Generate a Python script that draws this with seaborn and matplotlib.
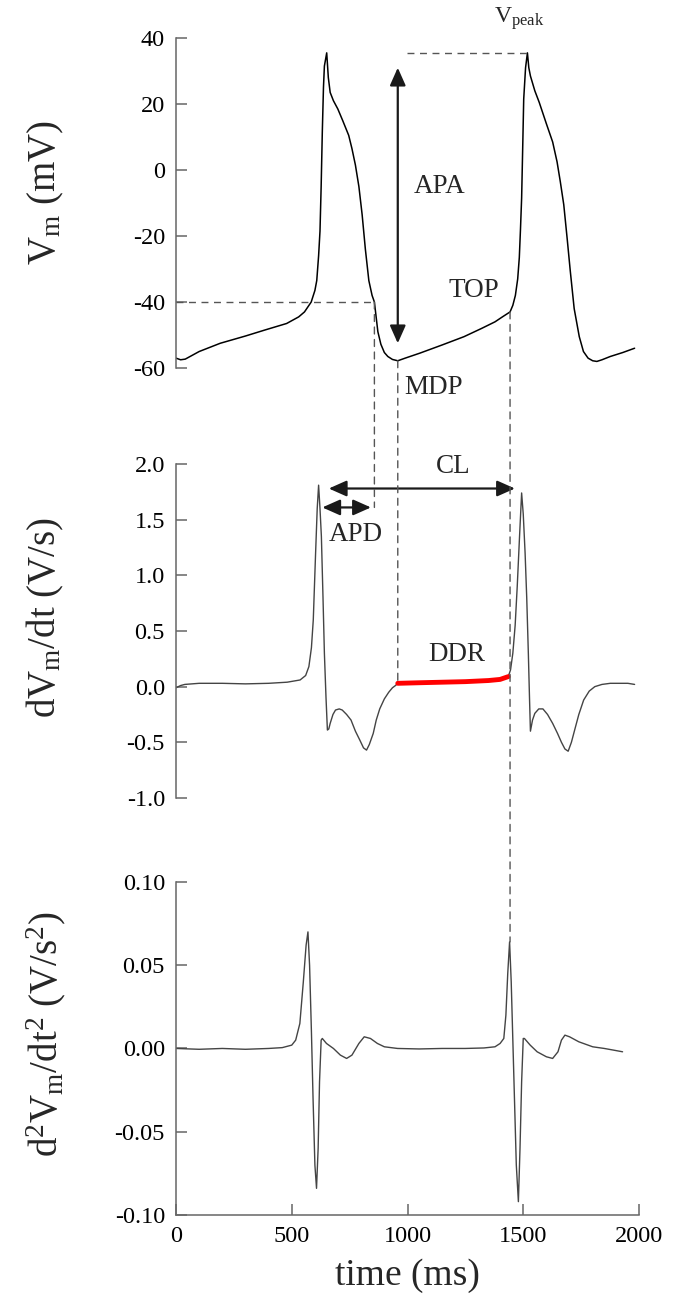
"""
Action potential and its first / second time derivatives,
with the usual pacemaker parameters marked (APA, TOP, MDP, APD, CL, DDR).
"""

import numpy as np
import pandas as pd
import seaborn as sns
import matplotlib.pyplot as plt
from matplotlib.patches import ConnectionPatch

# ---- membrane potential (ms, mV) ----
vm_time = [0, 20, 40, 100, 191, 300, 383, 478, 530, 555, 584, 600, 608, 616, 622, 627,
           632, 637, 641, 651, 658, 666, 680, 699, 720, 746, 760, 775, 790, 804, 818,
           833, 847, 857, 872, 885, 900, 915, 935, 958, 990, 1053, 1150, 1244, 1320,
           1378, 1410, 1443, 1455, 1466, 1476, 1483, 1488, 1493, 1498, 1502, 1510, 1518,
           1524, 1531, 1550, 1569, 1600, 1627, 1646, 1660, 1675, 1690, 1703, 1720, 1742,
           1760, 1780, 1800, 1818, 1840, 1876, 1930, 1981]
vm_values = [-57, -57.5, -57.3, -55, -52.5, -50.3, -48.5, -46.5, -44.5, -43, -40, -36.5,
             -33.5, -26, -18.5, -5, 11.5, 25, 31.5, 35.5, 28, 23.5, 21, 18.5, 15, 10.5,
             6.5, 1.5, -5, -13.5, -24, -33.5, -38, -40, -49, -52.8, -55.3, -56.5, -57.4,
             -57.8, -57, -55.5, -53, -50.5, -48, -46, -44.5, -43, -41, -38, -33, -26.5,
             -18, -8.5, 8, 21.5, 31, 35.5, 31, 28.5, 24, 20.5, 14, 8.5, 2.5, -3.5, -10.5,
             -21, -30.5, -42, -50.5, -55, -57, -57.8, -58, -57.5, -56.5, -55.3, -54]

# ---- first derivative (ms, V/s) ----
dv_time = [0, 20, 38, 100, 200, 300, 400, 480, 536, 560, 574, 585, 593, 603, 610, 616,
           622, 628, 635, 641, 648, 654, 660, 666, 678, 689, 705, 718, 737, 756, 775, 794,
           810, 823, 835, 852, 865, 880, 900, 919, 935, 948, 958]
dv_values = [-0.01, 0.01, 0.02, 0.03, 0.03, 0.025, 0.03, 0.04, 0.06, 0.1, 0.18, 0.35,
             0.6, 1.2, 1.6, 1.81, 1.6, 1.35, 0.8, 0.3, -0.1, -0.39, -0.38, -0.33, -0.25,
             -0.21, -0.2, -0.21, -0.25, -0.3, -0.4, -0.48, -0.55, -0.57, -0.52, -0.42,
             -0.3, -0.2, -0.11, -0.05, -0.01, 0.01, 0.03]
ddr_time = [958, 1050, 1150, 1250, 1350, 1400, 1435]
ddr_values = [0.03, 0.035, 0.04, 0.045, 0.055, 0.065, 0.09]
dv2_time = [1435, 1445, 1455, 1465, 1474, 1484, 1493, 1500, 1508, 1515, 1522, 1527, 1531,
            1540, 1550, 1567, 1585, 1605, 1627, 1648, 1665, 1680, 1694, 1708, 1722, 1740,
            1761, 1785, 1809, 1840, 1876, 1910, 1952, 1981]
dv2_values = [0.09, 0.15, 0.3, 0.55, 0.9, 1.35, 1.74, 1.55, 1.2, 0.8, 0.3, -0.1, -0.4,
              -0.3, -0.24, -0.2, -0.2, -0.25, -0.33, -0.42, -0.5, -0.56, -0.58, -0.5,
              -0.39, -0.25, -0.12, -0.04, 0.0, 0.02, 0.03, 0.03, 0.03, 0.02]

# ---- second derivative (ms, V/s^2) ----
d2v_time = [0, 100, 200, 300, 400, 459, 500, 517, 535, 550, 562, 570, 577, 585, 592, 600,
            607, 614, 620, 627, 632, 650, 680, 710, 737, 760, 790, 813, 840, 870, 900, 957,
            1050, 1150, 1250, 1330, 1378, 1400, 1416, 1425, 1433, 1441, 1448, 1455, 1462,
            1470, 1479, 1486, 1493, 1500, 1505, 1530, 1560, 1600, 1627, 1650, 1665, 1680,
            1700, 1740, 1780, 1800, 1850, 1890, 1929]
d2v_values = [0, -0.0005, 0, -0.0005, 0, 0.0005, 0.002, 0.005, 0.015, 0.04, 0.062, 0.07,
              0.05, 0.01, -0.03, -0.07, -0.084, -0.06, -0.02, 0.005, 0.006, 0.003, 0.0,
              -0.004, -0.006, -0.004, 0.003, 0.007, 0.006, 0.003, 0.001, 0.0, -0.0003, 0,
              0, 0.0003, 0.001, 0.003, 0.006, 0.02, 0.045, 0.064, 0.04, 0.005, -0.03,
              -0.07, -0.092, -0.06, -0.02, 0.006, 0.006, 0.002, -0.002, -0.005, -0.006,
              -0.002, 0.005, 0.008, 0.007, 0.004, 0.002, 0.001, 0.0, -0.001, -0.002]

# ---- marked parameters ----
top_threshold = -40        # mV, APD reference level
apd_end = 857              # ms, repolarisation crosses -40 mV
mdp_time, mdp_value = 958, -57.8
top_time, top_value = 1443, -43
vpeak_time, vpeak_value = 1518, 35.5
apa_range = (31, -52.5)
cl_range = (660, 1464)
cl_level = 1.78
apd_range = (632, 842)
apd_level = 1.61

sns.set_theme(style="ticks")
plt.rcParams["font.family"] = ["Liberation Serif", "DejaVu Serif"]
plt.rcParams["mathtext.fontset"] = "custom"
plt.rcParams["mathtext.rm"] = "Liberation Serif"
plt.rcParams["mathtext.it"] = "Liberation Serif:italic"

SPINE = "#666666"
DASH = dict(color="#555555", lw=1.0, linestyle=(0, (5, 4)))
ARROW = dict(arrowstyle="<|-|>,head_length=0.9,head_width=0.4", color="#1a1a1a",
             lw=1.6, shrinkA=0, shrinkB=0)
TXT = 19.5

fig = plt.figure(figsize=(6.86, 13.06), dpi=100)
W = 463 / 686
L = 176 / 686
ax1 = fig.add_axes([L, 0.7182, W, 0.2527])
ax2 = fig.add_axes([L, 0.3890, W, 0.2557])
ax3 = fig.add_axes([L, 0.0697, W, 0.2550])

sns.lineplot(data=pd.DataFrame({"t": vm_time, "v": vm_values}), x="t", y="v",
             ax=ax1, color="black", lw=1.1)
sns.lineplot(data=pd.DataFrame({"t": dv_time, "v": dv_values}), x="t", y="v",
             ax=ax2, color="#444444", lw=1.0)
sns.lineplot(data=pd.DataFrame({"t": dv2_time, "v": dv2_values}), x="t", y="v",
             ax=ax2, color="#444444", lw=1.0)
sns.lineplot(data=pd.DataFrame({"t": ddr_time, "v": ddr_values}), x="t", y="v",
             ax=ax2, color="red", lw=3.5)
sns.lineplot(data=pd.DataFrame({"t": d2v_time, "v": d2v_values}), x="t", y="v",
             ax=ax3, color="#444444", lw=1.0)

limits = [(-60, 40), (-1.0, 2.0), (-0.10, 0.10)]
yticks = [np.arange(-60, 41, 20), np.arange(-1.0, 2.01, 0.5), np.arange(-0.10, 0.101, 0.05)]
yfmt = ["{:.0f}", "{:.1f}", "{:.2f}"]
for ax, lim, ticks, fmt in zip([ax1, ax2, ax3], limits, yticks, yfmt):
    ax.set_xlim(0, 2000)
    ax.set_ylim(*lim)
    ax.set_yticks(ticks)
    ax.set_yticklabels([fmt.format(v + 0.0) for v in ticks])
    ax.tick_params(axis="both", direction="in", length=8, width=1.1, color=SPINE,
                   labelsize=17.5, pad=8, labelcolor="black")
    for side in ["top", "right"]:
        ax.spines[side].set_visible(False)
    ax.spines["left"].set_color(SPINE)
    ax.spines["left"].set_linewidth(1.1)
    ax.set_xlabel("")

for ax in [ax1, ax2]:
    ax.spines["bottom"].set_visible(False)
    ax.set_xticks([])
ax3.spines["bottom"].set_color(SPINE)
ax3.spines["bottom"].set_linewidth(1.1)
ax3.set_xticks([0, 500, 1000, 1500, 2000])
ax3.set_xlabel("time (ms)", fontsize=27)
ax3.xaxis.set_label_coords(0.5, -0.183)
ax3.xaxis.label.set_va("center")

ylabels = [r"V$_\mathrm{m}$ (mV)", r"dV$_\mathrm{m}$/dt (V/s)",
           r"d$^2$V$_\mathrm{m}$/dt$^2$ (V/s$^2$)"]
for ax, lab, yc in zip([ax1, ax2, ax3], ylabels, [0.533, 0.539, 0.544]):
    ax.set_ylabel(lab, fontsize=28)
    ax.yaxis.set_label_coords(-0.281, yc)
    ax.yaxis.label.set_va("center")

# ---- top panel annotations ----
ax1.plot([0, apd_end], [top_threshold, top_threshold], **DASH)
ax1.plot([mdp_time + 40, vpeak_time], [vpeak_value, vpeak_value], **DASH)
ax1.annotate("", xy=(mdp_time, apa_range[0]), xytext=(mdp_time, apa_range[1]),
             arrowprops=ARROW)
ax1.text(1025, -5, "APA", fontsize=TXT, va="center")
ax1.text(1178, -36.5, "TOP", fontsize=TXT, va="center")
ax1.text(985, -66, "MDP", fontsize=TXT, va="center")
ax1.text(1375, 46, r"V$_\mathrm{peak}$", fontsize=17, va="center")

# ---- middle panel annotations ----
ax2.annotate("", xy=(cl_range[0], cl_level), xytext=(cl_range[1], cl_level),
             arrowprops=ARROW)
ax2.annotate("", xy=(apd_range[0], apd_level), xytext=(apd_range[1], apd_level),
             arrowprops=ARROW)
ax2.text(1196, 1.98, "CL", fontsize=TXT, ha="center", va="center")
ax2.text(775, 1.37, "APD", fontsize=TXT, ha="center", va="center")
ax2.text(1215, 0.29, "DDR", fontsize=TXT, ha="center", va="center")

# ---- dashed guides running across panels ----
guides = [
    ((apd_end, top_threshold), ax1, (apd_end, apd_level), ax2),
    ((mdp_time, mdp_value), ax1, (mdp_time, ddr_values[0]), ax2),
    ((top_time, top_value), ax1, (top_time, 0.064), ax3),
]
for xy_a, ax_a, xy_b, ax_b in guides:
    con = ConnectionPatch(xyA=xy_a, coordsA=ax_a.transData, xyB=xy_b,
                          coordsB=ax_b.transData, **DASH)
    fig.add_artist(con)

fig.savefig("out.png", dpi=100)
